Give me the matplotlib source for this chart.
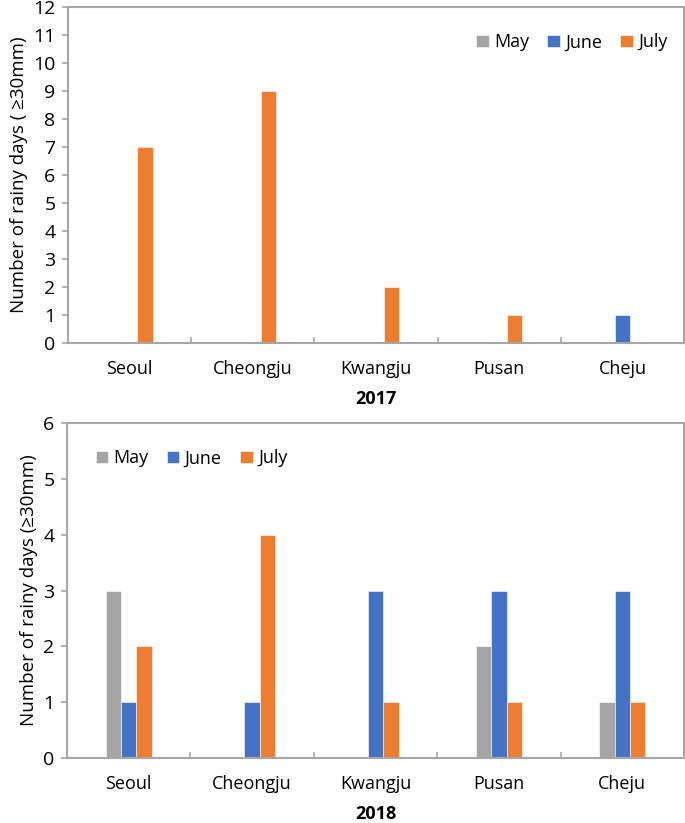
import matplotlib.pyplot as plt
import numpy as np

plt.rcParams['font.family'] = ['Open Sans', 'DejaVu Sans']

stations = ['Seoul', 'Cheongju', 'Kwangju', 'Pusan', 'Cheju']
months = ['May', 'June', 'July']
colors = ['#A5A5A5', '#4472C4', '#ED7D31']

# 2017 rainy days (>=30mm)
may_2017 = [0, 0, 0, 0, 0]
june_2017 = [0, 0, 0, 0, 1]
july_2017 = [7, 9, 2, 1, 0]

# 2018 rainy days (>=30mm)
may_2018 = [3, 0, 0, 2, 1]
june_2018 = [1, 1, 3, 3, 3]
july_2018 = [2, 4, 1, 1, 1]

axis_gray = '#A6A6A6'
w = 0.125
x = np.arange(len(stations))

fig = plt.figure(figsize=(6.85, 8.23), dpi=100)
ax1 = fig.add_axes([0.0993, 0.5832, 0.8992, 0.4083])
ax2 = fig.add_axes([0.0978, 0.0790, 0.9007, 0.4070])


def draw(ax, series, ymax, ylabel, year, legend_loc, legend_anchor):
    for i, vals in enumerate(series):
        ax.bar(x + (i - 1) * w, vals, w, color=colors[i], label=months[i],
               edgecolor='white', linewidth=0.4)
    ax.set_xlim(-0.5, 4.5)
    ax.set_ylim(0, ymax)
    ax.set_yticks(range(0, ymax + 1))
    ax.set_xticks(x)
    ax.set_xticklabels(stations)
    ax.set_xticks(np.arange(0.5, 4.5, 1), minor=True)
    ax.tick_params(axis='x', which='major', length=0, pad=12, labelsize=13)
    ax.tick_params(axis='x', which='minor', direction='in', length=4,
                   width=1.2, color=axis_gray)
    ax.tick_params(axis='y', direction='out', length=4, width=1.2,
                   color=axis_gray, labelsize=14, pad=5)
    for s in ax.spines.values():
        s.set_color(axis_gray)
        s.set_linewidth(1.5)
    ax.set_ylabel(ylabel, fontsize=13.5, labelpad=4)
    ax.text(0.5, -0.14, year, transform=ax.transAxes, ha='center', va='top',
            fontsize=13, fontweight='bold')
    ax.legend(loc=legend_loc, bbox_to_anchor=legend_anchor, ncol=3,
              frameon=False, fontsize=13, handlelength=0.7, handleheight=0.7,
              handletextpad=0.3, columnspacing=1.0)


draw(ax1, [may_2017, june_2017, july_2017], 12,
     'Number of rainy days ( \u226530mm)', '2017', 'upper right', (1.0, 0.97))
draw(ax2, [may_2018, june_2018, july_2018], 6,
     'Number of rainy days (\u226530mm)', '2018', 'upper left', (0.02, 0.97))

fig.savefig('out.png', dpi=100)
